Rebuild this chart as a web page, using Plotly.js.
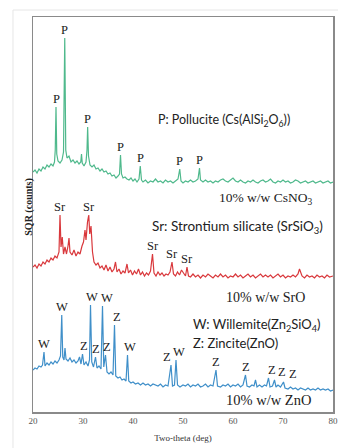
<!DOCTYPE html>
<html>
<head>
<meta charset="utf-8">
<script src="https://cdn.plot.ly/plotly-3.0.1.min.js"></script>
<style>html,body{margin:0;padding:0;background:#fff;}#chart{width:338px;height:448px;}</style>
</head>
<body>
<div id="chart"></div>
<script>
// ---------- DATA ----------
// 10% w/w CsNO3 (green)
const csTheta = [20.0,20.4,20.8,21.2,21.6,22.0,22.4,22.8,23.2,23.6,24.0,24.3,24.45,24.6,24.75,25.0,25.4,25.8,26.1,26.35,26.55,26.8,27.2,27.6,28.0,28.4,28.8,29.2,29.55,29.7,29.85,30.2,30.6,30.8,30.93,31.1,31.4,31.8,32.2,32.6,33.0,33.4,33.8,34.2,34.6,35.0,35.4,35.8,36.2,36.6,37.0,37.3,37.5,37.7,38.0,38.4,38.8,39.2,39.6,40.0,40.4,40.8,41.2,41.45,41.7,42.0,42.5,43.0,43.5,44.0,44.5,45.0,45.5,46.0,46.5,47.0,47.5,48.0,48.5,49.0,49.35,49.6,50.0,50.5,51.0,51.5,52.0,52.5,53.0,53.3,53.5,54.0,54.5,55.0,55.5,56.0,56.5,57.0,57.5,58.0,58.5,59.0,59.5,60.0,60.5,61.0,61.5,62.0,62.5,63.0,63.5,64.0,64.5,65.0,65.5,66.0,66.5,67.0,67.5,68.0,68.5,69.0,69.5,70.0,70.5,71.0,71.5,72.0,72.5,73.0,73.5,74.0,74.5,75.0,75.5,76.0,76.5,77.0,77.5,78.0,78.5,79.0,79.5,80.0];
const csCounts = [240,242,239,243,241,245,243,247,245,248,246,250,262,305,258,251,249,252,260,374,262,254,256,250,252,249,251,248,250,258,249,246,250,262,285,256,247,245,247,243,244,241,243,240,241,238,239,236,237,234,236,238,257,238,234,235,233,232,234,231,233,230,233,246,232,230,232,229,231,230,233,230,231,229,232,230,231,229,231,233,243,231,229,231,230,232,230,231,233,244,232,230,232,230,231,229,231,230,232,233,231,230,232,234,231,230,232,230,229,231,230,232,230,229,231,232,230,231,233,230,229,231,230,232,230,231,229,230,232,231,229,230,231,229,230,231,229,230,231,229,230,231,229,230];
const csPeaks = [24.6,26.35,30.93,37.5,41.45,49.35,53.3];

// 10% w/w SrO (red)
const srTheta = [20.0,20.4,20.8,21.2,21.6,22.0,22.4,22.8,23.2,23.6,24.0,24.4,24.8,25.2,25.4,25.6,25.85,26.1,26.4,26.7,27.0,27.2,27.4,27.8,28.2,28.6,29.0,29.4,29.8,30.1,30.4,30.6,30.9,31.15,31.35,31.6,31.9,32.2,32.6,33.0,33.4,33.8,34.2,34.6,35.0,35.4,35.8,36.2,36.5,36.8,37.2,37.6,38.0,38.4,38.8,39.1,39.5,39.9,40.3,40.7,41.1,41.5,41.9,42.3,42.7,43.1,43.5,43.9,44.2,44.6,45.0,45.4,45.8,46.2,46.6,47.0,47.4,47.8,48.1,48.5,48.9,49.3,49.7,50.1,50.5,50.8,51.1,51.5,52.0,52.5,53.0,53.5,54.0,54.5,55.0,55.5,56.0,56.5,57.0,57.5,58.0,58.5,59.0,59.5,60.0,60.5,61.0,61.5,62.0,62.5,63.0,63.5,64.0,64.5,65.0,65.5,66.0,66.5,67.0,67.5,68.0,68.5,69.0,69.5,70.0,70.5,71.0,71.5,72.0,72.5,73.0,73.3,73.8,74.3,74.8,75.3,75.8,76.3,76.8,77.3,77.8,78.3,78.8,79.3,80.0];
const srCounts = [145,147,144,148,146,150,148,152,150,154,152,156,154,160,197,165,175,158,165,158,166,174,160,157,162,156,160,158,166,170,182,172,190,197,178,186,160,150,147,149,144,146,142,147,141,145,140,143,150,140,143,138,141,139,148,139,142,137,141,138,143,137,140,136,139,137,141,158,139,136,140,137,139,136,138,137,140,150,138,136,140,137,142,139,136,145,136,135,138,135,137,134,137,135,138,136,134,137,135,138,135,137,134,136,135,138,135,137,134,136,138,135,137,134,136,138,135,137,135,137,134,136,138,135,137,134,136,135,137,135,138,143,136,134,137,135,136,134,137,135,136,134,137,135,136,135];
const srPeaks = [25.4,31.15,43.9,47.8,50.8];

// 10% w/w ZnO (blue)
const znTheta = [20.0,20.4,20.8,21.2,21.6,21.9,22.2,22.4,22.8,23.2,23.6,24.0,24.4,24.8,25.2,25.5,25.75,25.95,26.2,26.4,26.6,27.0,27.4,27.8,28.2,28.6,29.0,29.3,29.6,29.9,30.2,30.6,31.0,31.3,31.5,31.75,32.1,32.5,32.8,33.2,33.6,33.9,34.15,34.5,34.8,35.2,35.6,36.0,36.3,36.55,37.0,37.4,37.8,38.2,38.6,38.9,39.15,39.6,40.0,40.5,41.0,41.5,42.0,42.5,43.0,43.5,44.0,44.5,45.0,45.5,46.0,46.5,47.0,47.6,47.9,48.3,48.6,48.9,49.4,50.0,50.5,51.0,51.5,52.0,52.5,53.0,53.5,54.0,54.5,55.0,55.5,56.0,56.6,56.9,57.5,58.0,58.5,59.0,59.5,60.0,60.5,61.0,61.5,62.0,62.5,62.8,63.3,63.8,64.2,64.5,64.8,65.3,65.8,66.3,66.7,67.1,67.4,67.9,68.3,68.6,69.0,69.5,70.1,70.4,71.0,71.5,72.0,72.5,73.0,73.5,74.0,74.5,75.0,75.5,76.0,76.5,77.0,77.5,78.0,78.5,79.0,79.5,80.0];
const znCounts = [42,44,43,46,45,47,60,46,49,47,50,48,51,49,52,56,97,55,52,64,53,51,54,50,52,49,51,55,48,58,47,50,46,52,107,50,45,55,44,46,43,106,45,57,40,38,40,37,87,36,34,35,32,33,31,57,31,29,30,28,29,27,29,27,28,26,28,27,26,28,25,27,26,47,26,27,52,27,25,27,26,28,25,27,26,28,25,26,28,25,27,26,42,26,25,27,26,28,25,27,26,28,25,27,37,26,25,27,26,32,25,27,25,27,26,34,25,26,32,25,27,25,30,24,23,25,23,24,22,24,23,22,24,22,23,22,24,22,23,22,23,21,22];
const znPeaks =  [22.2,25.75,26.4,29.9,31.5,32.5,33.9,34.5,36.3,38.9,47.6,48.6,56.6,62.5,67.1,68.3,70.1];
const znLabels = ['W','W','','Z','W','Z','W','Z','Z','W','Z','W','Z','Z','Z','Z','Z'];

const xTicks = [20,30,40,50,60,70,80];

// ---------- CHART ----------
function yAt(xs, ys, x){
  let best = 0;
  for (let i = 1; i < xs.length; i++) if (Math.abs(xs[i]-x) < Math.abs(xs[best]-x)) best = i;
  return ys[best];
}
const serif = 'Liberation Serif, Times New Roman, serif';
const sans = 'Lato, Carlito, sans-serif';

const traces = [
  {x: csTheta, y: csCounts, type:'scatter', mode:'lines', line:{color:'#4fb98c', width:1.2}, hoverinfo:'skip'},
  {x: srTheta, y: srCounts, type:'scatter', mode:'lines', line:{color:'#d9383c', width:1.2}, hoverinfo:'skip'},
  {x: znTheta, y: znCounts, type:'scatter', mode:'lines', line:{color:'#3f8fc9', width:1.2}, hoverinfo:'skip'}
];

const ann = [];
function peakLabels(xs, ys, peaks, labels, shifts){
  peaks.forEach((p, i) => {
    const t = Array.isArray(labels) ? labels[i] : labels;
    if (!t) return;
    ann.push({x: p, y: yAt(xs, ys, p), xref:'x', yref:'y', text: t, showarrow:false,
      xshift: shifts ? shifts[i] : 0,
      yanchor:'bottom', yshift:-1, font:{family: serif, size:12.5, color:'#222'}});
  });
}
peakLabels(csTheta, csCounts, csPeaks, 'P');
peakLabels(srTheta, srCounts, srPeaks, 'Sr');
// small horizontal nudges so crowded labels do not collide (style only)
peakLabels(znTheta, znCounts, znPeaks, znLabels, [0,0,0,1,1,0,4,1,2,2,-4,3,0,0,3,7,9]);

const txt = (text, x, y, fam, size) => ({x, y, xref:'x', yref:'y', text, showarrow:false,
  xanchor:'left', yanchor:'middle', font:{family: fam, size, color:'#222'}});
ann.push(txt('P: Pollucite (Cs(AlSi<sub>2</sub>O<sub>6</sub>))', 44.65, 292, sans, 12.5));
ann.push(txt('10% w/w CsNO<sub>3</sub>', 56.8, 214, serif, 13.5));
ann.push(txt('Sr: Strontium silicate (SrSiO<sub>3</sub>)', 43.4, 185, sans, 13.5));
ann.push(txt('10% w/w SrO', 58.2, 115, serif, 14));
ann.push(txt('W: Willemite(Zn<sub>2</sub>SiO<sub>4</sub>)', 51.6, 87, sans, 13));
ann.push(txt('Z: Zincite(ZnO)', 51.6, 69, sans, 13));
ann.push(txt('10% w/w ZnO', 58.2, 12, serif, 14.5));
ann.push({x:-0.013, y:0.52, xref:'paper', yref:'paper', text:'<b>SQR (counts)</b>', textangle:-90,
  showarrow:false, xanchor:'center', yanchor:'middle', font:{family: serif, size:10, color:'#222'}});

const layout = {
  width: 338, height: 448,
  margin: {l:33, r:5, t:17, b:36, pad:0},
  paper_bgcolor:'#fff', plot_bgcolor:'#fff',
  showlegend:false,
  xaxis: {range:[20,80], tickvals: xTicks, ticktext: xTicks.map(String), ticks:'', showgrid:false, zeroline:false,
    showline:true, mirror:true, linecolor:'#8a8a8a', linewidth:1.5,
    tickfont:{family: serif, size:9, color:'#555'},
    title:{text:'Two-theta (deg)', font:{family: serif, size:9, color:'#333'}, standoff:9}},
  yaxis: {range:[0,395], showticklabels:false, ticks:'', showgrid:false, zeroline:false,
    showline:true, mirror:true, linecolor:'#8a8a8a', linewidth:1.5},
  annotations: ann,
  shapes: [{type:'rect', xref:'paper', yref:'paper', x0:-0.0667, x1:1.03, y0:-0.1, y1:1.0177,
    line:{color:'#e6e6e6', width:1}}]
};
Plotly.newPlot('chart', traces, layout, {staticPlot:true, displayModeBar:false});
</script>
</body>
</html>
